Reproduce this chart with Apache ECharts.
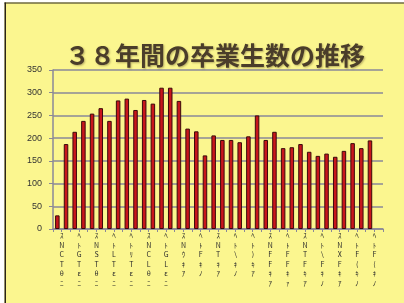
<!DOCTYPE html>
<html>
<head>
<meta charset="utf-8">
<script src="https://cdn.jsdelivr.net/npm/echarts/dist/echarts.min.js"></script>
<style>
  html, body { margin: 0; padding: 0; background: #fff; }
  #chart { width: 404px; height: 303px; }
</style>
</head>
<body>
<div id="chart"></div>
<script>
// graduates per year (38 slots, last one has no bar)
const graduates = [
  30, 187, 214, 238, 254, 266, 238, 283, 287, 262,
  284, 276, 311, 311, 282, 221, 215, 162, 206, 196,
  196, 191, 204, 250, 196, 214, 178, 180, 187, 170,
  161, 166, 159, 172, 189, 178, 195, null
];

// labels shown under every other bar (as printed, stacked vertically)
const xLabels = [
  'ｽNCTθﾆ', 'ﾍﾄGTεﾆ', 'ｽNSTθﾆ', 'ﾍﾄLTεﾆ', 'ﾍﾄﾘTεﾆ',
  'ｽNCLθﾆ', 'ﾍﾄGLεﾆ', 'ｽNｳｷｱ', 'ﾍﾄFｷﾉ', 'ｽNTｷｱ',
  'ﾍﾄ\\ｷﾉ', 'ﾍﾄ)ｷｱ', 'ｽNFFｷｱ', 'ﾍﾄFFｷｧ', 'ｽNTFｷｱ',
  'ﾍﾄ\\Fｷﾉ', 'ｽNXFｷｱ', 'ﾍﾄF(ｷﾉ', 'ﾍﾄF(ｷﾉ'
];

const yTicks = [0, 50, 100, 150, 200, 250, 300, 350];

const categories = graduates.map(function (v, i) {
  return i % 2 === 0 ? (xLabels[i / 2] || '') : '';
});

const chart = echarts.init(document.getElementById('chart'));

chart.setOption({
  backgroundColor: '#fbf68f',
  animation: false,
  title: {
    text: '３８年間の卒業生数の推移',
    left: 60,
    top: 38,
    textStyle: {
      fontFamily: 'Noto Sans CJK JP',
      fontSize: 25,
      fontWeight: 'bold',
      color: '#4a3d2a',
      textShadowColor: 'rgba(60,40,20,0.35)',
      textShadowBlur: 2,
      textShadowOffsetX: 1,
      textShadowOffsetY: 1
    }
  },
  graphic: [
    { type: 'rect', shape: { x: 0, y: 0, width: 404, height: 2.5 }, style: { fill: '#fff' } },
    { type: 'rect', shape: { x: 0, y: 0, width: 4.5, height: 303 }, style: { fill: '#fff' } },
    { type: 'rect', shape: { x: 4.5, y: 2.5, width: 400, height: 1 }, style: { fill: '#2a2418' } },
    { type: 'rect', shape: { x: 4.5, y: 2.5, width: 1.5, height: 301 }, style: { fill: '#2a2418' } }
  ],
  grid: {
    left: 53,
    right: 21,
    top: 70,
    bottom: 74
  },
  xAxis: {
    type: 'category',
    data: categories,
    axisLine: { lineStyle: { color: '#8a8898', width: 1.5 } },
    axisTick: { show: true, interval: 0, length: 3, lineStyle: { color: '#8a8898' } },
    axisLabel: {
      interval: 0,
      margin: 2,
      fontFamily: 'Noto Sans CJK JP',
      fontSize: 7,
      lineHeight: 9.5,
      color: '#2a2a2a',
      padding: [0, 0, 0, 9],
      formatter: function (v) { return v.split('').join('\n'); }
    }
  },
  yAxis: {
    type: 'value',
    min: yTicks[0],
    max: yTicks[yTicks.length - 1],
    interval: 50,
    axisLine: { show: true, lineStyle: { color: '#8a8898', width: 1.5 } },
    axisTick: { show: true, length: 4, lineStyle: { color: '#8a8898' } },
    splitLine: { lineStyle: { color: '#8a8898', width: 1.5 } },
    axisLabel: {
      margin: 11,
      fontFamily: 'Liberation Sans',
      fontSize: 9,
      color: '#333'
    }
  },
  series: [{
    type: 'bar',
    data: graduates,
    barWidth: '52%',
    itemStyle: {
      color: '#c8161c',
      borderColor: '#3a0a0a',
      borderWidth: 1
    }
  }]
});
</script>
</body>
</html>
